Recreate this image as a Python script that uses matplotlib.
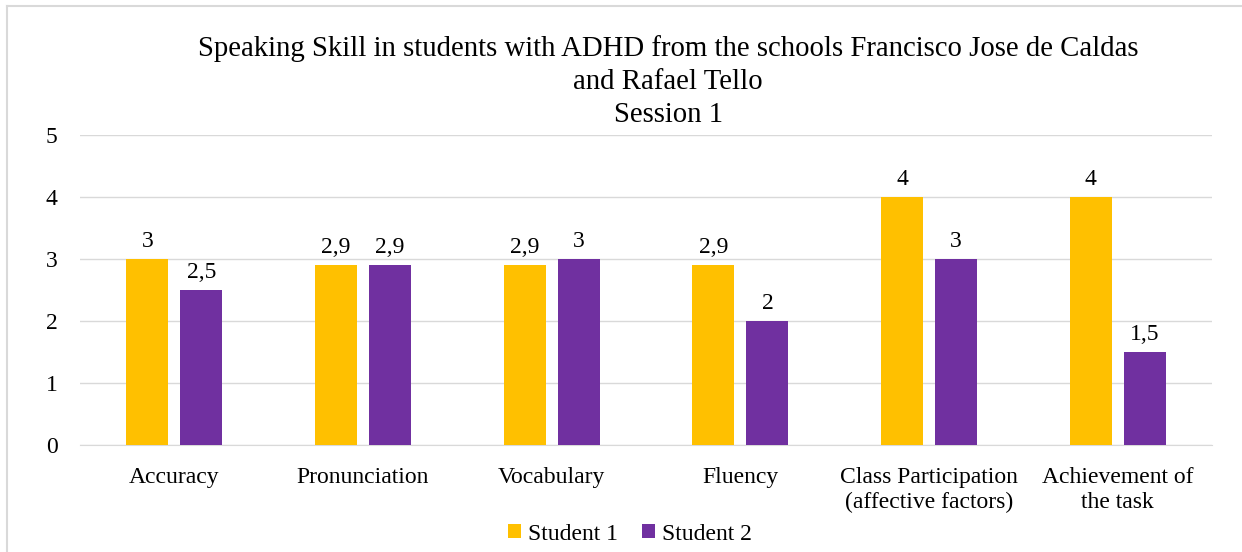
import numpy as np
import matplotlib.pyplot as plt
from matplotlib.lines import Line2D

# ---------------------------------- Data ---------------------------------- #
categories = ['Accuracy', 'Pronunciation', 'Vocabulary', 'Fluency',
              'Class Participation\n(affective factors)', 'Achievement of\nthe task']
student1 = [3, 2.9, 2.9, 2.9, 4, 4]
student2 = [2.5, 2.9, 3, 2, 3, 1.5]
series_names = ['Student 1', 'Student 2']
title = ('Speaking Skill in students with ADHD from the schools Francisco Jose de Caldas\n'
         'and Rafael Tello\nSession 1')

# --------------------------------- Plotting -------------------------------- #
plt.rcParams['font.family'] = ['Liberation Serif', 'DejaVu Serif']
fig = plt.figure(figsize=(12.42, 5.52), dpi=100)
ax = fig.add_axes([0.0644, 0.194, 0.9116, 0.561])

x = np.arange(len(categories))
w = 0.223
off = 0.143
b1 = ax.bar(x - off, student1, w, color='#FFC000', label=series_names[0], zorder=3)
b2 = ax.bar(x + off, student2, w, color='#7030A0', label=series_names[1], zorder=3)

fmt = lambda v: ('%g' % v).replace('.', ',')
for bars, vals in ((b1, student1), (b2, student2)):
    for r, v in zip(bars, vals):
        ax.text(r.get_x() + r.get_width() / 2, v + 0.12, fmt(v),
                ha='center', va='bottom', fontsize=17)

ax.set_xlim(-0.5, len(categories) - 0.5)
ax.set_ylim(0, 5)
ax.set_yticks(range(6))
ax.set_xticks(x)
ax.set_xticklabels(categories, fontsize=17, linespacing=1.25)
ax.tick_params(axis='y', labelsize=17, length=0, pad=16)
ax.tick_params(axis='x', length=0, pad=16)
ax.grid(axis='y', color='#D9D9D9', linewidth=1, zorder=0)
for s in ['top', 'right', 'left']:
    ax.spines[s].set_visible(False)
ax.spines['bottom'].set_color('#D9D9D9')

fig.text(0.538, 0.937, title, ha='center', va='top', fontsize=20.7, linespacing=1.35)

fig.legend(loc='lower center', bbox_to_anchor=(0.507, -0.025), ncol=2, frameon=False,
           fontsize=17, handlelength=0.55, handleheight=0.55, columnspacing=1.0,
           handletextpad=0.3)

# light frame: left and top edges only
fig.add_artist(Line2D([6.5 / 1242, 6.5 / 1242], [0, 1 - 5.5 / 552],
                      transform=fig.transFigure, color='#D9D9D9', linewidth=1.5))
fig.add_artist(Line2D([6.5 / 1242, 1], [1 - 5.5 / 552, 1 - 5.5 / 552],
                      transform=fig.transFigure, color='#D9D9D9', linewidth=1.5))

plt.savefig('out.png', dpi=100)
